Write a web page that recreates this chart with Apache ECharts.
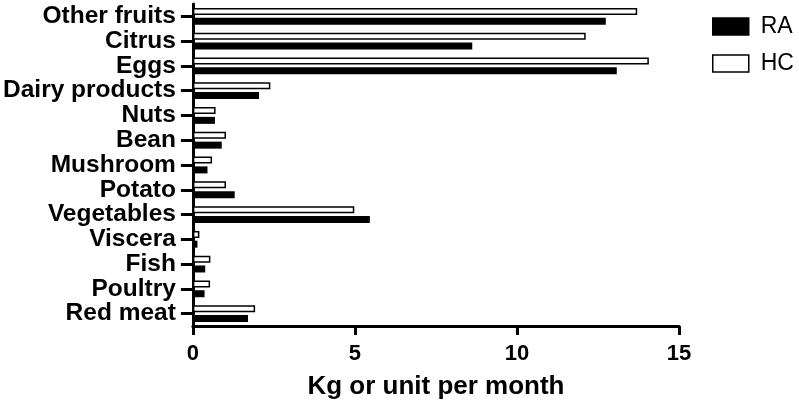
<!DOCTYPE html>
<html>
<head>
<meta charset="utf-8">
<script src="https://cdn.jsdelivr.net/npm/echarts@6/dist/echarts.min.js"></script>
<style>
html,body{margin:0;padding:0;background:#fff;}
#chart{width:799px;height:405px;}
</style>
</head>
<body>
<div id="chart"></div>
<script>
// Categories listed bottom to top
const categories = ['Red meat','Poultry','Fish','Viscera','Vegetables','Potato','Mushroom','Bean','Nuts','Dairy products','Eggs','Citrus','Other fruits'];
const raValues = [1.70, 0.36, 0.38, 0.14, 5.46, 1.29, 0.45, 0.89, 0.68, 2.04, 13.08, 8.62, 12.74];
const hcValues = [1.92, 0.53, 0.54, 0.20, 4.98, 1.02, 0.59, 1.02, 0.70, 2.39, 14.07, 12.12, 13.71];
const xTicks = [0, 5, 10, 15];
const xTitle = 'Kg or unit per month';

const FONT = "'Liberation Sans', Arial, Helvetica, sans-serif";
const chart = echarts.init(document.getElementById('chart'), null, {renderer: 'canvas'});
chart.setOption({
  animation: false,
  backgroundColor: '#ffffff',
  grid: {left: 190, right: 120, top: 4, bottom: 77, containLabel: false},
  legend: {
    orient: 'vertical',
    left: 707, top: 10,
    padding: 5,
    icon: 'rect',
    itemWidth: 36, itemHeight: 17, itemGap: 14,
    textStyle: {fontFamily: FONT, fontSize: 23, color: '#000', lineHeight: 23, padding: [0, 0, 0, 7]},
    data: [
      {name: 'RA', itemStyle: {color: '#000', borderColor: '#000', borderWidth: 1.5}},
      {name: 'HC', itemStyle: {color: '#fff', borderColor: '#000', borderWidth: 1.5}}
    ]
  },
  xAxis: {
    type: 'value',
    min: xTicks[0], max: xTicks[xTicks.length - 1], interval: 5,
    splitLine: {show: false},
    axisLine: {show: true, onZero: false, lineStyle: {color: '#000', width: 3}},
    axisTick: {show: true, length: 9, lineStyle: {color: '#000', width: 3}},
    axisLabel: {fontFamily: FONT, fontSize: 22, fontWeight: 'bold', color: '#000', margin: 17},
    name: xTitle,
    nameLocation: 'middle',
    nameGap: 48,
    nameTextStyle: {fontFamily: FONT, fontSize: 26, fontWeight: 'bold', color: '#000'}
  },
  yAxis: {
    type: 'category',
    data: categories,
    axisLine: {show: true, lineStyle: {color: '#000', width: 3}},
    axisTick: {show: true, length: 12, alignWithLabel: true, lineStyle: {color: '#000', width: 3}},
    axisLabel: {fontFamily: FONT, fontSize: 24.5, fontWeight: 'bold', color: '#000', margin: 17, interval: 0}
  },
  series: [
    {name: 'HC', type: 'bar', data: hcValues, barWidth: 7, barGap: '40%',
     itemStyle: {color: '#fff', borderColor: '#000', borderWidth: 1.5}},
    {name: 'RA', type: 'bar', data: raValues, barWidth: 7, barGap: '40%',
     itemStyle: {color: '#000', borderColor: '#000', borderWidth: 0}}
  ]
});
</script>
</body>
</html>
